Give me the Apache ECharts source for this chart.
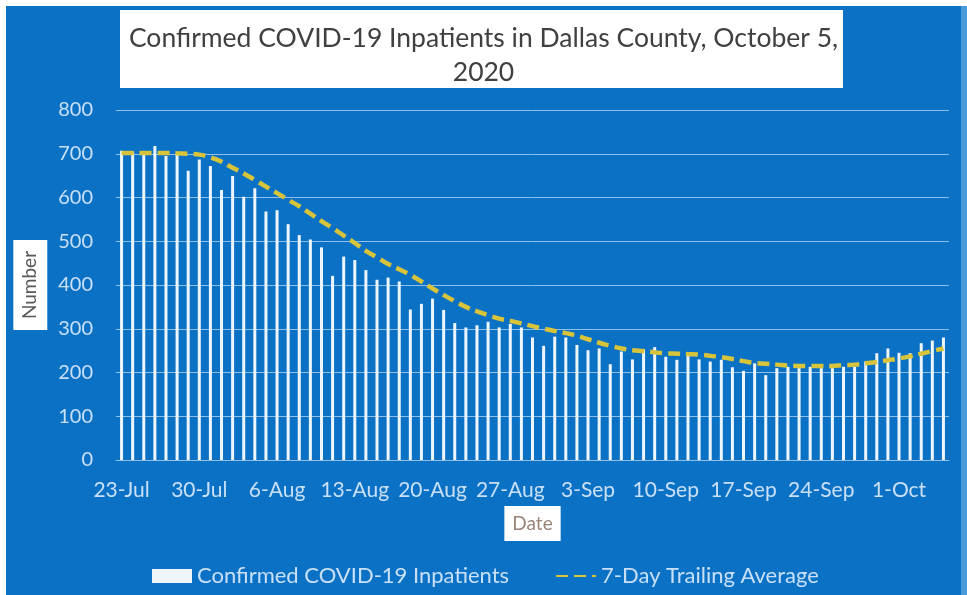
<!DOCTYPE html>
<html>
<head>
<meta charset="utf-8">
<script src="https://cdn.jsdelivr.net/npm/echarts@6/dist/echarts.min.js"></script>
<style>
  html, body {margin: 0; padding: 0; background: #fff;}
  #chart {width: 967px; height: 595px;}
</style>
</head>
<body>
<div id="chart"></div>
<script>
const dates = [
  '23-Jul', '24-Jul', '25-Jul', '26-Jul', '27-Jul', '28-Jul', '29-Jul', '30-Jul', '31-Jul',
  '1-Aug', '2-Aug', '3-Aug', '4-Aug', '5-Aug', '6-Aug', '7-Aug', '8-Aug', '9-Aug', '10-Aug',
  '11-Aug', '12-Aug', '13-Aug', '14-Aug', '15-Aug', '16-Aug', '17-Aug', '18-Aug', '19-Aug', '20-Aug',
  '21-Aug', '22-Aug', '23-Aug', '24-Aug', '25-Aug', '26-Aug', '27-Aug', '28-Aug', '29-Aug', '30-Aug', '31-Aug',
  '1-Sep', '2-Sep', '3-Sep', '4-Sep', '5-Sep', '6-Sep', '7-Sep', '8-Sep', '9-Sep', '10-Sep',
  '11-Sep', '12-Sep', '13-Sep', '14-Sep', '15-Sep', '16-Sep', '17-Sep', '18-Sep', '19-Sep', '20-Sep',
  '21-Sep', '22-Sep', '23-Sep', '24-Sep', '25-Sep', '26-Sep', '27-Sep', '28-Sep', '29-Sep', '30-Sep',
  '1-Oct', '2-Oct', '3-Oct', '4-Oct', '5-Oct'
]
const inpatients = [
  707, 705, 697, 718, 695, 699, 661, 687, 672, 617,
  649, 602, 621, 568, 571, 539, 514, 504, 486, 421,
  465, 457, 434, 412, 417, 408, 344, 357, 369, 343,
  313, 303, 308, 316, 303, 311, 303, 280, 261, 282,
  280, 263, 251, 255, 219, 248, 230, 253, 258, 236,
  229, 245, 230, 225, 229, 212, 204, 221, 194, 210,
  213, 210, 213, 210, 210, 213, 213, 225, 244, 255,
  245, 244, 267, 273, 280
]
const trailingAvg = [
  702, 702, 702, 702, 702, 701, 700, 698, 692, 682,
  668, 655, 640, 625, 610, 595, 580, 563, 546, 530,
  513, 496, 478, 463, 448, 436, 423, 408, 392, 377,
  363, 350, 340, 331, 323, 318, 312, 306, 300, 295,
  290, 284, 276, 268, 261, 255, 251, 249, 246, 244,
  243, 242, 241, 238, 235, 231, 226, 222, 220, 218,
  216, 215, 215, 215, 215, 217, 218, 221, 224, 228,
  232, 237, 243, 249, 255
]

const font = 'Lato'
const chart = echarts.init(document.getElementById('chart'))

const option = {
  animation: false,
  backgroundColor: '#fff',
  graphic: [
    {type: 'rect', z: -10, shape: {x: 6, y: 6, width: 955, height: 589}, style: {fill: '#0a71c5'}},
    {type: 'rect', z: -10, shape: {x: 961, y: 6, width: 6, height: 589}, style: {fill: '#4a9ad9'}},
    {type: 'rect', z: 1, shape: {x: 120, y: 10, width: 723, height: 78}, style: {fill: '#fff'}}
  ],
  title: {
    text: 'Confirmed COVID-19 Inpatients in Dallas County, October 5,\n2020',
    left: 'center',
    top: 16,
    z: 8,
    textStyle: {
      fontFamily: font,
      fontSize: 26.5,
      fontWeight: 'normal',
      color: '#404040',
      lineHeight: 34
    }
  },
  legend: {
    left: 152,
    top: 565,
    padding: 0,
    itemWidth: 40,
    itemHeight: 14,
    itemGap: 46,
    textStyle: {color: '#c8e0f7', fontFamily: font, fontSize: 22},
    data: [
      {name: 'Confirmed COVID-19 Inpatients', icon: 'rect'},
      {name: '7-Day Trailing Average', itemStyle: {opacity: 0}}
    ]
  },
  grid: {left: 116, right: 18, top: 110, bottom: 135, outerBoundsMode: 'none'},
  xAxis: {
    type: 'category',
    data: dates,
    name: 'Date',
    nameLocation: 'middle',
    nameGap: 46,
    nameTextStyle: {
      fontFamily: font, fontSize: 19, color: '#9a8478',
      backgroundColor: '#fff', padding: [6, 8], lineHeight: 23
    },
    axisLine: {lineStyle: {color: '#8fc0ea', width: 1}},
    axisTick: {interval: 6, length: 4, lineStyle: {color: '#8fc0ea'}},
    axisLabel: {interval: 6, margin: 20, color: '#c8e0f7', fontFamily: font, fontSize: 21}
  },
  yAxis: {
    type: 'value',
    min: 0,
    max: 800,
    interval: 100,
    name: 'Number',
    nameLocation: 'middle',
    nameGap: 63,
    nameTextStyle: {
      fontFamily: font, fontSize: 19, color: '#595959',
      backgroundColor: '#fff', padding: [6, 11], lineHeight: 22
    },
    axisLine: {show: false},
    axisTick: {show: false},
    axisLabel: {margin: 23, color: '#c8e0f7', fontFamily: font, fontSize: 20},
    splitLine: {lineStyle: {color: '#8fc0ea', width: 1}}
  },
  series: [
    {
      name: 'Confirmed COVID-19 Inpatients',
      type: 'bar',
      barWidth: 3,
      itemStyle: {color: '#eef6fd'},
      data: inpatients
    },
    {
      name: '7-Day Trailing Average',
      type: 'line',
      smooth: true,
      symbol: 'none',
      z: 5,
      itemStyle: {color: '#d8c43a'},
      lineStyle: {color: '#d8c43a', width: 4.5, type: [12, 6]},
      data: trailingAvg
    }
  ]
}

chart.setOption(option)
</script>
</body>
</html>
